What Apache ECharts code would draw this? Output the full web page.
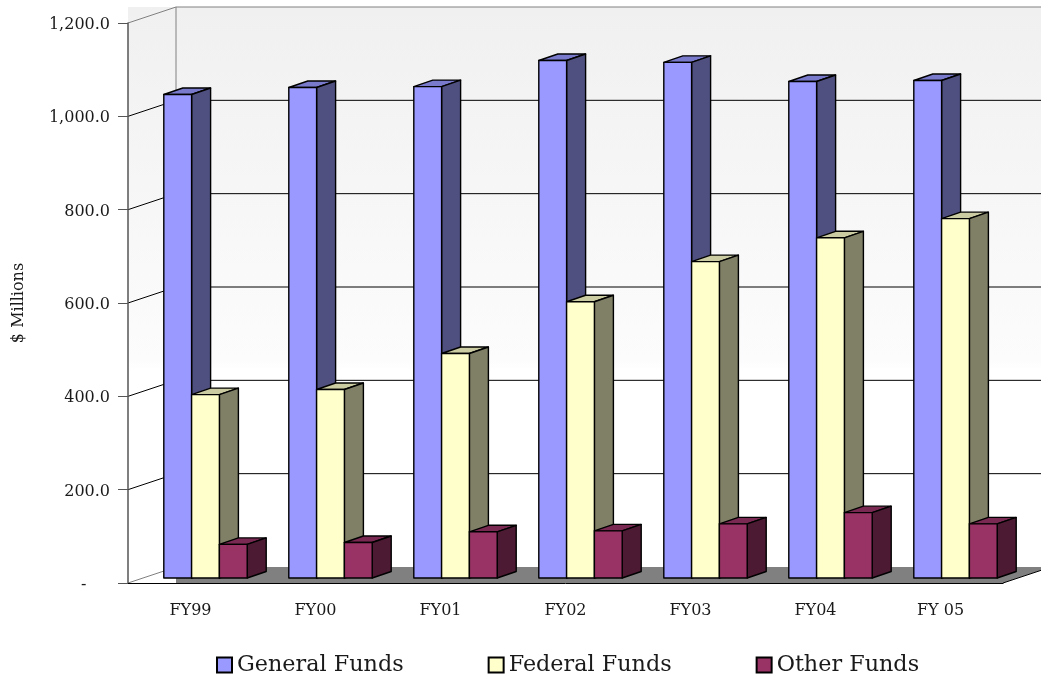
<!DOCTYPE html>
<html>
<head>
<meta charset="utf-8">
<style>html,body{margin:0;padding:0;background:#fff}#chart{width:1041px;height:677px}</style>
<script src="https://cdn.jsdelivr.net/npm/echarts@6/dist/echarts.min.js"></script>
</head>
<body>
<div id="chart"></div>
<script>
// Budget by fund source, $ millions
const fiscalYears = ['FY99', 'FY00', 'FY01', 'FY02', 'FY03', 'FY04', 'FY 05'];
const generalFunds = [1036, 1051, 1053, 1109, 1105, 1064, 1066];
const federalFunds = [393, 404, 481, 592, 678, 729, 770];
const otherFunds = [72, 76, 99, 101, 116, 140, 116];
const gridTicks = [0, 200, 400, 600, 800, 1000, 1200];

const FONT = '"DejaVu Serif", serif';
const INK = '#1a1a1a';

// Oblique projection used by the pseudo-3D box: full depth of the plot,
// the gap in front of the bars and the depth of a bar.
const wallDepth = { x: 48, y: -16 };
const barGap = { x: 15, y: -5 };
const barDepth = { x: 19, y: -6.5 };
const barWidth = 27.8;

const palettes = [
  { front: '#9999ff', top: '#7a7acc', side: '#505080' },
  { front: '#ffffcc', top: '#cccca3', side: '#808066' },
  { front: '#993366', top: '#7a2952', side: '#4d1a33' }
];

function poly(points, fill, stroke, lineWidth) {
  return {
    type: 'polygon',
    shape: { points: points },
    style: { fill: fill, stroke: stroke, lineWidth: lineWidth, lineJoin: 'round' }
  };
}

function line(x1, y1, x2, y2, stroke, lineWidth) {
  return {
    type: 'line',
    shape: { x1: x1, y1: y1, x2: x2, y2: y2 },
    style: { stroke: stroke, lineWidth: lineWidth, fill: null }
  };
}

function renderBar(slot) {
  return function (params, api) {
    const c = palettes[slot];
    const top = api.coord([api.value(0), api.value(1)]);
    const base = api.coord([api.value(0), 0]);
    const x0 = top[0] + barGap.x + (slot - 1.5) * barWidth;
    const x1 = x0 + barWidth;
    const yT = top[1] + barGap.y;
    const yB = base[1] + barGap.y;
    const dx = barDepth.x, dy = barDepth.y;
    return {
      type: 'group',
      children: [
        poly([[x0, yT], [x1, yT], [x1 + dx, yT + dy], [x0 + dx, yT + dy]], c.top, '#000', 1.4),
        poly([[x1, yT], [x1 + dx, yT + dy], [x1 + dx, yB + dy], [x1, yB]], c.side, '#000', 1.4),
        poly([[x0, yT], [x1, yT], [x1, yB], [x0, yB]], c.front, '#000', 1.4)
      ]
    };
  };
}

// Walls, floor and grid lines behind the bars
function renderBox(params, api) {
  const cs = params.coordSys;
  const dx = wallDepth.x, dy = wallDepth.y;
  const left = cs.x, right = cs.x + cs.width;
  const yTop = api.coord([0, gridTicks[gridTicks.length - 1]])[1];
  const yZero = api.coord([0, 0])[1];
  const children = [];
  children.push({
    type: 'rect',
    shape: { x: left, y: yTop + dy, width: right + dx - left, height: yZero - yTop },
    style: {
      fill: new echarts.graphic.LinearGradient(0, 0, 0, 1, [
        { offset: 0, color: '#f0f0f0' },
        { offset: 0.63, color: '#fcfcfc' },
        { offset: 0.65, color: '#ffffff' },
        { offset: 1, color: '#ffffff' }
      ])
    }
  });
  children.push(poly([
    [left + dx, yZero + dy], [right + dx, yZero + dy], [right, yZero], [left + dx, yZero]
  ], '#808080', null, 0));
  children.push(line(right, yZero, right + dx, yZero + dy, '#000', 1));
  gridTicks.forEach(function (t, i) {
    const y = api.coord([0, t])[1];
    const edge = (i === 0 || i === gridTicks.length - 1) ? '#808080' : '#000';
    children.push(line(left, y, left + dx, y + dy, edge, 1));
    if (i > 0) {
      children.push(line(left + dx, y + dy, right + dx, y + dy, edge, 1));
    }
  });
  children.push(line(left + dx, yTop + dy, left + dx, yZero + dy, '#808080', 1));
  return { type: 'group', children: children };
}

const chart = echarts.init(document.getElementById('chart'), null, { renderer: 'canvas' });

function barSeries(name, values, slot) {
  return {
    name: name,
    type: 'custom',
    coordinateSystem: 'cartesian2d',
    clip: false,
    z: 5 + slot,
    itemStyle: { color: palettes[slot].front, borderColor: '#000', borderWidth: 1 },
    encode: { x: 0, y: 1 },
    data: values.map(function (v, i) { return [fiscalYears[i], v]; }),
    renderItem: renderBar(slot)
  };
}

chart.setOption({
  animation: false,
  backgroundColor: '#ffffff',
  grid: { left: 128, top: 23, width: 875, height: 560, containLabel: false, outerBoundsMode: 'none' },
  legend: {
    left: 216,
    top: 654,
    icon: 'rect',
    itemWidth: 15,
    itemHeight: 15,
    itemGap: 84,
    padding: 0,
    data: ['General Funds', 'Federal Funds', 'Other Funds'],
    textStyle: { fontFamily: FONT, fontSize: 22.3, color: INK }
  },
  xAxis: {
    type: 'category',
    data: fiscalYears,
    z: 8,
    axisLine: { lineStyle: { color: '#000', width: 1 } },
    axisTick: { length: 10, lineStyle: { color: '#333', width: 1 } },
    axisLabel: { fontFamily: FONT, fontSize: 16, color: INK, margin: 20 }
  },
  yAxis: {
    type: 'value',
    min: 0,
    max: 1200,
    interval: 200,
    name: '$ Millions',
    nameLocation: 'middle',
    nameGap: 101,
    nameRotate: 90,
    nameTextStyle: { fontFamily: FONT, fontSize: 16, color: INK },
    z: 8,
    splitLine: { show: false },
    axisLine: { show: true, lineStyle: { color: '#555', width: 1.5 } },
    axisTick: { show: true, length: 10, lineStyle: { color: '#555', width: 1 } },
    axisLabel: {
      margin: 18,
      rich: {
        tick: { fontFamily: FONT, fontSize: 16, color: INK, padding: [4, 0, 0, 0] }
      },
      formatter: function (v) {
        const text = v === 0 ? '-\u00a0\u00a0\u00a0\u00a0\u2009' : v.toLocaleString('en-US', { minimumFractionDigits: 1 });
        return '{tick|' + text + '}';
      }
    }
  },
  series: [
    {
      name: 'box',
      type: 'custom',
      coordinateSystem: 'cartesian2d',
      clip: false,
      silent: true,
      z: 1,
      encode: { x: 0, y: 1 },
      data: [[fiscalYears[0], 0]],
      renderItem: renderBox
    },
    barSeries('General Funds', generalFunds, 0),
    barSeries('Federal Funds', federalFunds, 1),
    barSeries('Other Funds', otherFunds, 2)
  ]
});
</script>
</body>
</html>
